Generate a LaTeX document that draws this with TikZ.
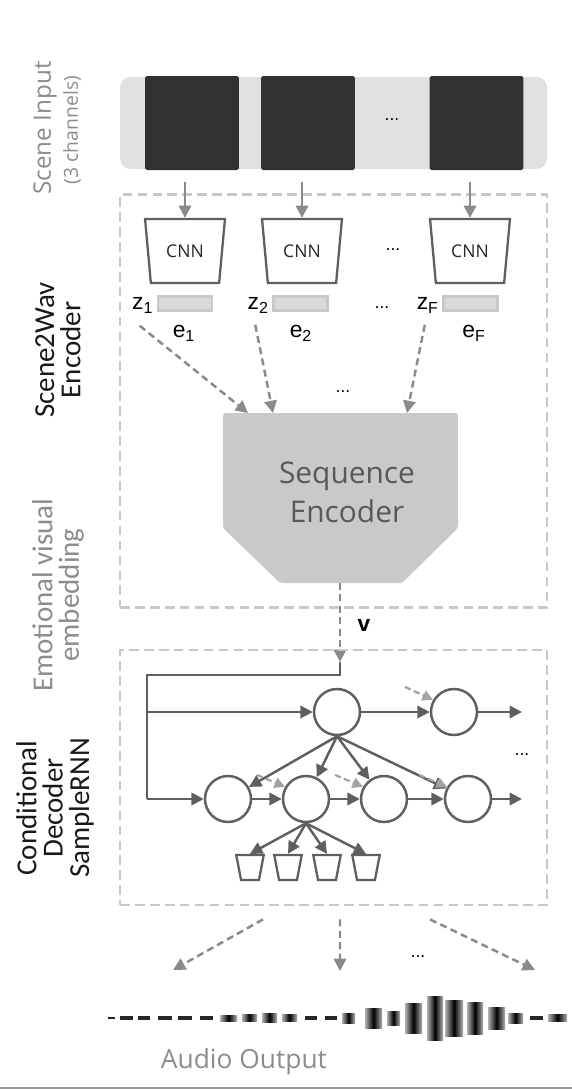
\documentclass[tikz,border=0pt]{standalone}
\usepackage{fontspec}
\setmainfont{Open Sans}
\newfontfamily\sidefont{Carlito}
\newfontfamily\symfont{Liberation Sans}
\usetikzlibrary{arrows.meta,calc,shapes.geometric}

\definecolor{framegray}{HTML}{313131}
\definecolor{bargray}{HTML}{E0E0E0}
\definecolor{boxgray}{HTML}{C8C8C8}
\definecolor{nodegray}{HTML}{5F5F5F}
\definecolor{arrowgray}{HTML}{8A8A8A}
\definecolor{lightarrow}{HTML}{A3A3A3}
\definecolor{labelgray}{HTML}{8C8C8C}
\definecolor{seqgray}{HTML}{C9C9C9}

\tikzset{
  tipA/.style={-{Triangle[length=7pt,width=7pt]}},
  feed/.style={tipA, draw=arrowgray, line width=1.5pt},
  dashfeed/.style={tipA, draw=arrowgray, line width=1.4pt, dash pattern=on 4pt off 2.5pt},
  smallfeed/.style={-{Triangle[length=6pt,width=6pt]}, draw=lightarrow, line width=1.3pt, dash pattern=on 3.5pt off 2pt},
  flow/.style={tipA, draw=nodegray, line width=1.4pt},
  groupbox/.style={draw=boxgray, line width=1.6pt, dash pattern=on 5.5pt off 3pt, minimum width=8.54cm, inner sep=0pt},
  framebox/.style={fill=framegray, minimum width=1.88cm, minimum height=1.88cm, rounded corners=1pt, inner sep=0pt},
  cnn/.style={trapezium, trapezium angle=76, trapezium stretches=true, shape border rotate=180,
    draw=nodegray, line width=1.3pt, fill=white, minimum width=1.6cm, minimum height=1.28cm,
    inner sep=0pt, font=\fontsize{10}{12}\selectfont, text=black!85},
  cup/.style={trapezium, trapezium angle=75, trapezium stretches=true, shape border rotate=180,
    draw=nodegray, line width=1.3pt, fill=white, minimum width=0.55cm, minimum height=0.5cm, inner sep=1pt},
  emb/.style={draw=boxgray, fill=black!15, line width=1.5pt, minimum width=1.08cm, minimum height=0.28cm, inner sep=0pt},
  cell/.style={circle, draw=nodegray, line width=1.4pt, fill=white, minimum size=0.92cm, inner sep=0pt},
  sym/.style={font=\symfont\fontsize{13}{15}\selectfont, inner sep=0pt},
  dots/.style={font=\symfont\fontsize{10}{12}\selectfont, inner sep=0pt},
  side/.style={rotate=90, align=center, font=\sidefont\fontsize{16.5}{15}\selectfont},
}

\begin{document}
\begin{tikzpicture}[x=0.02cm, y=-0.02cm]
		%%%%% START %%%%%
		\useasboundingbox (0,0) rectangle (572,1090);
		
		% side labels
		\node[rotate=90, text=labelgray, font=\fontsize{13.8}{16}\selectfont] (scenelbl) at (45,128) {Scene Input};
		\node[rotate=90, text=labelgray, font=\fontsize{11}{13}\selectfont] (scenesub) at (72,130) {(3 channels)};
		\node[side, text=black!90] (enclbl) at (58,350) {Scene2Wav\\Encoder};
		\node[side, text=labelgray] (emblbl) at (58,595) {Emotional visual\\embedding};
		\node[side, text=black!90] (declbl) at (55,808) {Conditional\\Decoder\\SampleRNN};
		
		% scene input
		\node[fill=bargray, rounded corners=6pt, minimum width=8.54cm, minimum height=1.84cm] (scene) at (333.5,123) {};
		\node[framebox] (fr1) at (192,123) {};
		\node[framebox] (fr2) at (308,123) {};
		\node[framebox] (fr3) at (476.5,123) {};
		\node[dots] (frdots) at (392,120) {...};
		
		% encoder
		\node[groupbox, minimum height=8.26cm] (encbox) at (333.5,401) {};
		\node[cnn] (cnn1) at (185,251) {CNN};
		\node[cnn] (cnn2) at (302,251) {CNN};
		\node[cnn] (cnn3) at (470,251) {CNN};
		\node[dots] (cnndots) at (393,250) {...};
		\foreach \n in {1,2,3}
			\draw[feed] ($(cnn\n.north |- scene.south)+(0,13)$) -- (cnn\n.north);
		
		\node[emb] (e1) at (185,303.5) {};
		\node[emb] (e2) at (300.5,303.5) {};
		\node[emb] (eF) at (470.5,303.5) {};
		\node[sym, anchor=east] (z1) at ($(e1.west)+(-3,2)$) {z\textsubscript{1}};
		\node[sym, anchor=east] (z2) at ($(e2.west)+(-3,2)$) {z\textsubscript{2}};
		\node[sym, anchor=east] (zF) at ($(eF.west)+(-3,2)$) {z\textsubscript{F}};
		\node[sym] (le1) at (184,333) {e\textsubscript{1}};
		\node[sym] (le2) at (301,333) {e\textsubscript{2}};
		\node[sym] (leF) at (474,333) {e\textsubscript{F}};
		\node[dots] (edots) at (382,308) {...};
		
		\fill[seqgray, rounded corners=1.5pt] (223,413) -- (458,413) -- (458,528) -- (402,583) -- (280,583) -- (223,528) -- cycle;
		\node[align=center, text=black!65, font=\fontsize{17}{22}\selectfont] (seqenc) at (347,492) {Sequence\\Encoder};
		\coordinate (seqin1) at (248,413);
		\coordinate (seqin2) at (273,413);
		\coordinate (seqin3) at (407,413);
		\coordinate (seqout) at (340,583);
		\draw[dashfeed] ($(z1.south)+(-3,12)$) -- (seqin1);
		\draw[dashfeed] ($(z2.south)+(-3,11)$) -- (seqin2);
		\draw[dashfeed] ($(zF.south)+(-3,11)$) -- (seqin3);
		\node[dots] (seqdots) at (343,392) {...};
		
		% embedding v
		\coordinate (vin) at (340,662);
		\draw[dashfeed] (seqout) -- (vin);
		\node[font=\symfont\bfseries\fontsize{13}{15}\selectfont] (vlbl) at (364,625) {v};
		
		% decoder
		\node[groupbox, minimum height=5.1cm] (decbox) at (333.5,777.5) {};
		\node[cell] (up1) at (337,712) {};
		\node[cell] (up2) at (454,712) {};
		\node[cell] (lo1) at (228,799) {};
		\node[cell] (lo2) at (306,799) {};
		\node[cell] (lo3) at (384,799) {};
		\node[cell] (lo4) at (468,799) {};
		\coordinate (corner) at (147,675);
		\coordinate (out1) at (522,712);
		\coordinate (out2) at (522,799);
		
		\draw[nodegray, line width=1.4pt] (vin) |- (corner) -- (corner |- lo1);
		\draw[flow] (corner |- up1) -- (up1);
		\draw[flow] (corner |- lo1) -- (lo1);
		\draw[flow] (up1) -- (up2);
		\draw[flow] (up2) -- (out1);
		\draw[flow] (lo1) -- (lo2);
		\draw[flow] (lo2) -- (lo3);
		\draw[flow] (lo3) -- (lo4);
		\draw[flow] (lo4) -- (out2);
		\foreach \n in {1,...,4}
			\draw[flow] (up1.south) -- (lo\n);
		\draw[smallfeed] ($(up2.150)+(-28,-13)$) -- (up2.150);
		\foreach \n in {2,3,4}
			\draw[smallfeed] ($(lo\n.150)+(-28,-12)$) -- (lo\n.150);
		\node[dots] (decdots) at (522,755) {...};
		
		\node[cup] (c1) at (250,867.5) {};
		\node[cup] (c2) at (288,867.5) {};
		\node[cup] (c3) at (327,867.5) {};
		\node[cup] (c4) at (366,867.5) {};
		\foreach \n in {1,...,4}
			\draw[flow] (lo2.south) -- (c\n.north);
		
		% audio output
		\coordinate (w1) at (173,970);
		\coordinate (w2) at (340,971);
		\coordinate (w3) at (535,970);
		\draw[dashfeed] ($(decbox.south)+(-70.5,13)$) -- (w1);
		\draw[dashfeed] ($(decbox.south)+(6.5,13)$) -- (w2);
		\draw[dashfeed] ($(decbox.south)+(96.5,13)$) -- (w3);
		\node[dots] (outdots) at (418,957) {...};
		
		\foreach \a/\b/\h in {108/115/1.2, 120/133/1.8, 138/150/1.8, 158/172/1.8, 178/192/1.8, 200/213/1.6,
				305/317/2, 325/337/2, 530/543/2}
			\fill[black!85] (\a,{1018-\h}) rectangle (\b,{1018+\h});
		\foreach \a/\b/\h in {220/237/3, 242/257/3.5, 262/277/4.5, 282/297/3.5, 342/355/5, 365/382/10,
				387/400/7, 405/422/15, 427/443/22, 445/463/18, 467/483/16, 488/505/11, 508/523/5, 548/567/3.5}
			\shade[left color=black!30, right color=black!30, middle color=black] (\a,{1018-\h}) rectangle (\b,{1018+\h});
		\node[text=labelgray, font=\fontsize{15}{18}\selectfont] (audiolbl) at (244,1062) {Audio Output};
		
		\draw[black!40, line width=1.2pt] (0,1088) -- (572,1088);
		%%%%% END %%%%%
\end{tikzpicture}
\end{document}
